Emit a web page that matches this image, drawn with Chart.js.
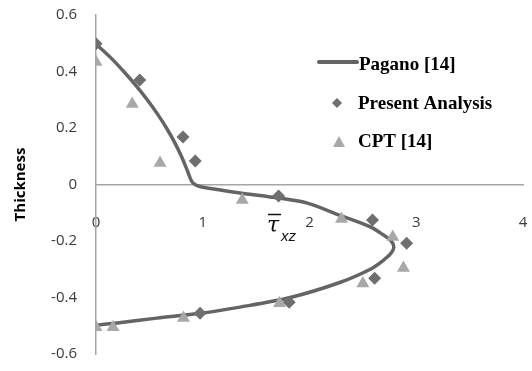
<!DOCTYPE html>
<html>
<head>
<meta charset="utf-8">
<script src="https://cdn.jsdelivr.net/npm/chart.js@4/dist/chart.umd.min.js"></script>
<style>
  html, body { margin: 0; padding: 0; background: #fff; }
  #wrap { width: 532px; height: 371px; }
</style>
</head>
<body>
<div id="wrap"><canvas id="c" width="532" height="371"></canvas></div>
<script>
// Through-thickness transverse shear stress distribution
const paganoX = [0, 0.135, 0.26, 0.375, 0.48, 0.575, 0.66, 0.735, 0.80, 0.855, 0.895, 0.935, 0.99, 1.35, 1.71, 1.98, 2.29, 2.57, 2.69, 2.765, 2.79, 2.76, 2.68, 2.57, 2.29, 1.82, 1.35, 0.98, 0.57, 0.2, 0];
const paganoY = [0.497, 0.45, 0.4, 0.35, 0.3, 0.25, 0.2, 0.15, 0.1, 0.05, 0.012, -0.002, -0.009, -0.03, -0.048, -0.066, -0.11, -0.15, -0.178, -0.2, -0.222, -0.245, -0.272, -0.30, -0.346, -0.40, -0.434, -0.456, -0.473, -0.49, -0.498];

const presentX = [0, 0.41, 0.815, 0.93, 1.71, 2.59, 2.91, 2.61, 1.81, 0.975];
const presentY = [0.498, 0.37, 0.168, 0.083, -0.041, -0.126, -0.208, -0.332, -0.417, -0.456];

const cptX = [0, 0.34, 0.6, 1.37, 2.3, 2.78, 2.88, 2.5, 1.72, 0.82, 0.16, 0];
const cptY = [0.434, 0.285, 0.076, -0.055, -0.122, -0.186, -0.296, -0.35, -0.42, -0.473, -0.505, -0.505];

const xTicks = [0, 1, 2, 3, 4];
const yTicks = [-0.6, -0.4, -0.2, 0, 0.2, 0.4, 0.6];

const seriesNames = ['Pagano [14]', 'Present Analysis', 'CPT [14]'];

const toPoints = (xs, ys) => xs.map((x, i) => ({ x: x, y: ys[i] }));

const AXIS_COLOR = '#a6a6a6';
const TICK_COLOR = '#3a3a3a';

// Legend drawn inside the plot area, top right
const innerLegend = {
  id: 'innerLegend',
  afterDatasetsDraw(chart) {
    const ctx = chart.ctx;
    const ds = chart.data.datasets;
    ctx.save();
    ctx.font = 'bold 19px "Liberation Serif", "Times New Roman", serif';
    ctx.fillStyle = '#000';
    ctx.textBaseline = 'middle';
    ctx.textAlign = 'left';

    // line entry
    ctx.strokeStyle = ds[0].borderColor;
    ctx.lineWidth = 4;
    ctx.lineCap = 'round';
    ctx.beginPath();
    ctx.moveTo(319, 62);
    ctx.lineTo(357, 62);
    ctx.stroke();
    ctx.fillText(ds[0].label, 359, 65);

    // diamond entry
    ctx.fillStyle = ds[1].backgroundColor;
    ctx.beginPath();
    ctx.moveTo(337, 98);
    ctx.lineTo(342, 103);
    ctx.lineTo(337, 108);
    ctx.lineTo(332, 103);
    ctx.closePath();
    ctx.fill();
    ctx.fillStyle = '#000';
    ctx.fillText(ds[1].label, 358, 104);

    // triangle entry
    ctx.fillStyle = ds[2].backgroundColor;
    ctx.beginPath();
    ctx.moveTo(339, 136);
    ctx.lineTo(345, 147);
    ctx.lineTo(333, 147);
    ctx.closePath();
    ctx.fill();
    ctx.fillStyle = '#000';
    ctx.fillText(ds[2].label, 358, 142);
    ctx.restore();
  },
  afterDraw(chart) {
    // axis variable label: tau-bar with subscript xz
    const ctx = chart.ctx;
    ctx.save();
    ctx.fillStyle = '#111';
    ctx.textBaseline = 'alphabetic';
    ctx.textAlign = 'left';
    ctx.font = 'italic 22px "DejaVu Serif", "Liberation Serif", serif';
    ctx.fillText('τ', 267, 232);
    ctx.font = 'italic 15px "Liberation Sans", "DejaVu Sans", sans-serif';
    ctx.fillText('xz', 281, 241);
    ctx.strokeStyle = '#111';
    ctx.lineWidth = 1.5;
    ctx.beginPath();
    ctx.moveTo(268, 214.5);
    ctx.lineTo(281, 214.5);
    ctx.stroke();
    ctx.restore();
  }
};

new Chart(document.getElementById('c'), {
  type: 'scatter',
  data: {
    datasets: [
      {
        label: seriesNames[0],
        data: toPoints(paganoX, paganoY),
        showLine: true,
        borderColor: '#646464',
        backgroundColor: '#646464',
        borderWidth: 3.5,
        pointRadius: 0,
        tension: 0.3,
        order: 3
      },
      {
        label: seriesNames[1],
        data: toPoints(presentX, presentY),
        pointStyle: 'rectRot',
        pointRadius: 6.5,
        backgroundColor: '#6e6e6e',
        borderColor: '#6e6e6e',
        borderWidth: 0,
        order: 2
      },
      {
        label: seriesNames[2],
        data: toPoints(cptX, cptY),
        pointStyle: 'triangle',
        pointRadius: 7.5,
        backgroundColor: '#a8a8a8',
        borderColor: '#a8a8a8',
        borderWidth: 0,
        order: 1
      }
    ]
  },
  options: {
    responsive: false,
    animation: false,
    events: [],
    layout: { padding: { left: 0, right: 9, top: 15, bottom: 17 } },
    plugins: {
      legend: { display: false },
      tooltip: { enabled: false }
    },
    scales: {
      x: {
        type: 'linear',
        position: { y: 0 },
        min: 0,
        max: 4,
        afterBuildTicks: (scale) => { scale.ticks = xTicks.map(v => ({ value: v })); },
        afterFit: (scale) => { scale.paddingLeft = 0; scale.paddingRight = 0; },
        grid: { display: false, drawTicks: false, tickLength: 0 },
        border: { display: true, color: AXIS_COLOR, width: 1.5 },
        ticks: {
          padding: 29,
          color: TICK_COLOR,
          font: { family: '"Open Sans", sans-serif', size: 15 },
          maxRotation: 0,
          callback: (v) => String(v)
        }
      },
      y: {
        type: 'linear',
        position: 'left',
        min: -0.6,
        max: 0.6,
        afterBuildTicks: (scale) => { scale.ticks = yTicks.map(v => ({ value: v })); },
        afterFit: (scale) => { scale.width = 96; scale.paddingTop = 0; scale.paddingBottom = 0; },
        grid: { display: false, drawTicks: false, tickLength: 0 },
        border: { display: true, color: AXIS_COLOR, width: 1.5 },
        title: {
          display: true,
          text: 'Thickness',
          color: '#000',
          font: { family: '"Open Sans", sans-serif', size: 15, weight: 'bold' },
          padding: { top: 12, bottom: 0 }
        },
        ticks: {
          padding: 19,
          color: TICK_COLOR,
          font: { family: '"Open Sans", sans-serif', size: 15 },
          callback: (v) => String(Math.round(v * 10) / 10)
        }
      }
    }
  },
  plugins: [innerLegend]
});
</script>
</body>
</html>
